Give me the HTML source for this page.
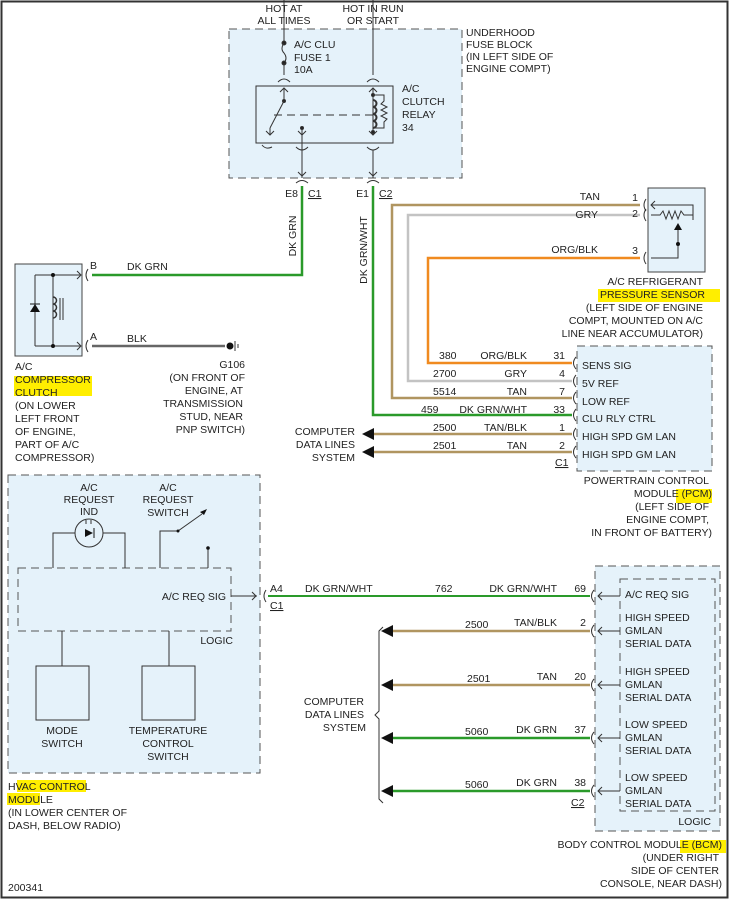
<!DOCTYPE html>
<html><head><meta charset="utf-8"><style>
html,body{margin:0;padding:0;background:#fff}
svg{display:block}
text{font-family:"Liberation Sans",sans-serif;font-size:10.5px;fill:#222}
.r{text-anchor:end}.m{text-anchor:middle}
</style></head><body>
<svg width="730" height="900" viewBox="0 0 730 900" xmlns="http://www.w3.org/2000/svg">
<rect x="1.5" y="1.5" width="726" height="896" fill="#fff" stroke="#333" stroke-width="2"/>
<!-- highlights -->
<g fill="#ffee00">
<rect x="14" y="376" width="78" height="20"/>
<rect x="598" y="289" width="122" height="13"/>
<rect x="676" y="489" width="36" height="14"/>
<rect x="17" y="780" width="69" height="12"/>
<rect x="7" y="793" width="33" height="12"/>
<rect x="621" y="584" width="70" height="14"/>
<rect x="680" y="840" width="46" height="13"/>
</g>
<!-- fuse block -->
<rect x="229" y="29" width="233" height="149" fill="#e5f2fa" stroke="#555" stroke-dasharray="8,5"/>
<rect x="256" y="86" width="137" height="57" fill="none" stroke="#333"/>
<g stroke="#333" fill="none">
<line x1="284" y1="29" x2="284" y2="43"/><circle cx="284" cy="43" r="2" fill="#222"/>
<path d="M284,43 q-4,6 0,10 q4,5 0,10"/><circle cx="284" cy="63" r="2" fill="#222"/>
<line x1="284" y1="63" x2="284" y2="75"/><path d="M278,82 q6,-6 12,0"/>
<path d="M280,92 l4,-4 4,4"/><line x1="284" y1="88" x2="284" y2="101"/><circle cx="284" cy="101" r="1.5" fill="#222"/>
<line x1="284" y1="101" x2="270" y2="128"/><line x1="270" y1="128" x2="270" y2="135"/><path d="M266,131 l4,4 4,-4"/>
<path d="M262,145 q4,5 10,2"/>
<line x1="302" y1="128" x2="302" y2="178"/><circle cx="302" cy="128" r="1.5" fill="#222"/><path d="M298,131 l4,4 4,-4"/>
<path d="M296,147 q6,6 12,0"/><path d="M298,172 l4,4 4,-4"/>
<line x1="274" y1="115" x2="373" y2="115" stroke-dasharray="8,5"/>
<line x1="373" y1="0" x2="373" y2="75"/><path d="M367,82 q6,-6 12,0"/><path d="M369,92 l4,-4 4,4"/>
<line x1="373" y1="88" x2="373" y2="135"/><circle cx="373" cy="95" r="1.5" fill="#222"/><circle cx="373" cy="132" r="1.5" fill="#222"/>
<path d="M373,100 a3,3 0 0 1 0,7 a3,3 0 0 1 0,7 a3,3 0 0 1 0,7 a3,3 0 0 1 0,7" stroke-width="2"/>
<path d="M373,95 h11 v6 l-3,3 6,3 -6,3 6,3 -6,3 6,3 -3,3 v6 h-11"/>
<path d="M369,131 l4,4 4,-4"/><path d="M367,147 q6,6 12,0"/>
<line x1="373" y1="150" x2="373" y2="178"/><path d="M369,172 l4,4 4,-4"/>
<line x1="284" y1="0" x2="284" y2="29"/>
<path d="M296,183 q6,-5 12,0"/><path d="M367,183 q6,-5 12,0"/>
</g>
<text x="284" y="12" class="m">HOT AT</text><text x="284" y="24" class="m">ALL TIMES</text>
<text x="373" y="12" class="m">HOT IN RUN</text><text x="373" y="24" class="m">OR START</text>
<text x="294" y="48">A/C CLU</text><text x="294" y="61">FUSE 1</text><text x="294" y="73">10A</text>
<text x="402" y="92">A/C</text><text x="402" y="105">CLUTCH</text><text x="402" y="118">RELAY</text><text x="402" y="131">34</text>
<text x="466" y="36">UNDERHOOD</text><text x="466" y="48">FUSE BLOCK</text><text x="466" y="60">(IN LEFT SIDE OF</text><text x="466" y="72">ENGINE COMPT)</text>
<text x="298" y="197" class="r">E8</text><text x="308" y="197" text-decoration="underline">C1</text>
<text x="369" y="197" class="r">E1</text><text x="379" y="197" text-decoration="underline">C2</text>
<!-- wires -->
<g fill="none" stroke-width="2.5">
<path d="M302,186 V275 H92" stroke="#2a9a2a"/>
<path d="M373,186 V415 H572" stroke="#2a9a2a"/>
<path d="M640,205 H392 V398 H572" stroke="#b09560"/>
<path d="M640,215 H408 V381 H572" stroke="#c3c3c3"/>
<path d="M640,258 H428 V363 H572" stroke="#f08a20"/>
<path d="M92,346 H225" stroke="#666"/>
<path d="M372,434 H572" stroke="#b09560"/>
<path d="M372,452 H572" stroke="#b09560"/>
<path d="M268,596 H590" stroke="#2a9a2a" stroke-width="2"/>
<path d="M390,631 H590" stroke="#b09560"/>
<path d="M390,685 H590" stroke="#b09560"/>
<path d="M390,738 H590" stroke="#2a9a2a"/>
<path d="M390,791 H590" stroke="#2a9a2a"/>
</g>
<g fill="#111">
<path d="M362,434 l12,-6 v12z"/><path d="M362,452 l12,-6 v12z"/>
<path d="M381,631 l12,-6 v12z"/><path d="M381,685 l12,-6 v12z"/><path d="M381,738 l12,-6 v12z"/><path d="M381,791 l12,-6 v12z"/>
<circle cx="230" cy="346" r="3.5"/>
</g>
<g stroke="#333" fill="none">
<line x1="235" y1="341" x2="235" y2="351"/><line x1="238" y1="344" x2="238" y2="348"/>
<path d="M383,627 l-4,4 v80 l-4,4 4,4 v80 l4,4"/>
</g>
<text x="296" y="236" transform="rotate(-90 296 236)" class="m">DK GRN</text>
<text x="367" y="250" transform="rotate(-90 367 250)" class="m">DK GRN/WHT</text>
<text x="127" y="270">DK GRN</text><text x="127" y="342">BLK</text>
<!-- compressor clutch -->
<rect x="15" y="264" width="67" height="92" fill="#e5f2fa" stroke="#444"/>
<g stroke="#333" fill="none">
<path d="M35,275 H80 M35,346 H80 M35,275 V346 M53,275 V346"/><path d="M77,271 l4,4 -4,4 M77,342 l4,4 -4,4"/>
<path d="M88,269 q-4,6 0,12 M88,340 q-4,6 0,12"/>
<path d="M53,297 a3,3 0 0 1 0,7 a3,3 0 0 1 0,7 a3,3 0 0 1 0,7" stroke-width="1.5"/>
<path d="M60,298 v22 M63,298 v22"/>
</g>
<path d="M30,312 h10 l-5,-8z" fill="#111"/><line x1="30" y1="304" x2="40" y2="304" stroke="#111"/>
<circle cx="53" cy="275" r="2" fill="#111"/><circle cx="53" cy="346" r="2" fill="#111"/>
<text x="90" y="269">B</text><text x="90" y="340">A</text>
<g><text x="15" y="370">A/C</text><text x="15" y="383">COMPRESSOR</text><text x="15" y="396">CLUTCH</text><text x="15" y="409">(ON LOWER</text><text x="15" y="422">LEFT FRONT</text><text x="15" y="435">OF ENGINE,</text><text x="15" y="448">PART OF A/C</text><text x="15" y="461">COMPRESSOR)</text></g>
<g class="r"><text x="245" y="368" class="r">G106</text><text x="245" y="381" class="r">(ON FRONT OF</text><text x="243" y="394" class="r">ENGINE, AT</text><text x="243" y="407" class="r">TRANSMISSION</text><text x="243" y="420" class="r">STUD, NEAR</text><text x="245" y="433" class="r">PNP SWITCH)</text></g>
<!-- sensor -->
<rect x="648" y="188" width="57" height="84" fill="#e5f2fa" stroke="#444"/>
<g stroke="#333" fill="none">
<path d="M646,199 q-4,6 0,12 M646,209 q-4,6 0,12 M646,252 q-4,6 0,12"/>
<path d="M655,201 l-4,4 4,4 M651,205 H693 V220 M651,215 H660 l3,-4 3,8 3,-8 3,8 3,-8 3,8 3,-8 3,4 H693 M651,258 H678 V224"/>
</g>
<path d="M674,230 h8 l-4,-7z" fill="#111"/><circle cx="678" cy="244" r="2" fill="#111"/>
<text x="600" y="200" class="r">TAN</text><text x="598" y="218" class="r">GRY</text><text x="598" y="253" class="r">ORG/BLK</text>
<text x="638" y="201" class="r">1</text><text x="638" y="217" class="r">2</text><text x="638" y="254" class="r">3</text>
<g><text x="703" y="285" class="r">A/C REFRIGERANT</text><text x="705" y="298" class="r">PRESSURE SENSOR</text><text x="703" y="311" class="r">(LEFT SIDE OF ENGINE</text><text x="703" y="324" class="r">COMPT, MOUNTED ON A/C</text><text x="703" y="337" class="r">LINE NEAR ACCUMULATOR)</text></g>
<!-- PCM -->
<rect x="577" y="346" width="135" height="125" fill="#e5f2fa" stroke="#555" stroke-dasharray="8,5"/>
<g stroke="#333" fill="none"><path d="M576,357 q-5,6 0,12 M576,375 q-5,6 0,12 M576,392 q-5,6 0,12 M576,409 q-5,6 0,12 M576,428 q-5,6 0,12 M576,446 q-5,6 0,12"/></g>
<g><text x="582" y="369">SENS SIG</text><text x="582" y="387">5V REF</text><text x="582" y="405">LOW REF</text><text x="582" y="422">CLU RLY CTRL</text><text x="582" y="440">HIGH SPD GM LAN</text><text x="582" y="458">HIGH SPD GM LAN</text></g>
<g><text x="439" y="359">380</text><text x="527" y="359" class="r">ORG/BLK</text><text x="565" y="359" class="r">31</text>
<text x="433" y="377">2700</text><text x="527" y="377" class="r">GRY</text><text x="565" y="377" class="r">4</text>
<text x="433" y="395">5514</text><text x="527" y="395" class="r">TAN</text><text x="565" y="395" class="r">7</text>
<text x="421" y="413">459</text><text x="527" y="413" class="r">DK GRN/WHT</text><text x="565" y="413" class="r">33</text>
<text x="433" y="431">2500</text><text x="527" y="431" class="r">TAN/BLK</text><text x="565" y="431" class="r">1</text>
<text x="433" y="449">2501</text><text x="527" y="449" class="r">TAN</text><text x="565" y="449" class="r">2</text>
<text x="555" y="466" text-decoration="underline">C1</text></g>
<text x="355" y="435" class="r">COMPUTER</text><text x="355" y="448" class="r">DATA LINES</text><text x="355" y="461" class="r">SYSTEM</text>
<g><text x="709" y="484" class="r">POWERTRAIN CONTROL</text><text x="712" y="497" class="r">MODULE (PCM)</text><text x="709" y="510" class="r">(LEFT SIDE OF</text><text x="709" y="523" class="r">ENGINE COMPT,</text><text x="712" y="536" class="r">IN FRONT OF BATTERY)</text></g>
<!-- HVAC -->
<rect x="8" y="475" width="252" height="298" fill="#e5f2fa" stroke="#555" stroke-dasharray="8,5"/>
<rect x="18" y="568" width="213" height="63" fill="none" stroke="#555" stroke-dasharray="8,5"/>
<g stroke="#333" fill="none">
<path d="M53,568 V533 H125 V568"/><circle cx="89" cy="533" r="14" fill="#e5f2fa"/>
<path d="M160,568 V531 H178 L202,514 M208,568 V548"/>
<path d="M231,596 H257 M252,592 l4,4 -4,4 M266,590 q-4,6 0,12"/>
<path d="M62,631 V666 M169,631 V666"/>
<rect x="36" y="666" width="53" height="54" fill="#e5f2fa"/><rect x="142" y="666" width="53" height="54" fill="#e5f2fa"/>
<path d="M86,524 v-4 M91,524 v-4"/>
</g>
<path d="M85,529 v8 l8,-4z" fill="#111"/><line x1="94" y1="528" x2="94" y2="538" stroke="#111"/>
<circle cx="178" cy="531" r="1.5" fill="#111"/><circle cx="208" cy="548" r="1.8" fill="#111"/><path d="M200,512 l7,-3 -3,6z" fill="#111"/>
<text x="89" y="491" class="m">A/C</text><text x="89" y="503" class="m">REQUEST</text><text x="89" y="515" class="m">IND</text>
<text x="168" y="491" class="m">A/C</text><text x="168" y="503" class="m">REQUEST</text><text x="168" y="516" class="m">SWITCH</text>
<text x="226" y="600" class="r">A/C REQ SIG</text><text x="233" y="644" class="r">LOGIC</text>
<text x="62" y="734" class="m">MODE</text><text x="62" y="747" class="m">SWITCH</text>
<text x="168" y="734" class="m">TEMPERATURE</text><text x="168" y="747" class="m">CONTROL</text><text x="168" y="760" class="m">SWITCH</text>
<text x="8" y="790">HVAC CONTROL</text><text x="8" y="803">MODULE</text><text x="8" y="816">(IN LOWER CENTER OF</text><text x="8" y="829">DASH, BELOW RADIO)</text>
<text x="8" y="891">200341</text>
<text x="270" y="592">A4</text><text x="270" y="609" text-decoration="underline">C1</text>
<text x="305" y="592">DK GRN/WHT</text><text x="435" y="592">762</text><text x="557" y="592" class="r">DK GRN/WHT</text><text x="586" y="592" class="r">69</text>
<!-- BCM -->
<rect x="595" y="566" width="125" height="265" fill="#e5f2fa" stroke="#555" stroke-dasharray="8,5"/>
<rect x="620" y="579" width="95" height="232" fill="none" stroke="#555" stroke-dasharray="8,5"/>
<g stroke="#333" fill="none">
<path d="M594,590 q-5,6 0,12 M594,625 q-5,6 0,12 M594,679 q-5,6 0,12 M594,732 q-5,6 0,12 M594,785 q-5,6 0,12"/>
<path d="M598,596 H620 M602,592 l-4,4 4,4 M598,631 H620 M602,627 l-4,4 4,4 M598,685 H620 M602,681 l-4,4 4,4 M598,738 H620 M602,734 l-4,4 4,4 M598,791 H620 M602,787 l-4,4 4,4"/>
</g>
<g><text x="625" y="598">A/C REQ SIG</text>
<text x="625" y="621">HIGH SPEED</text><text x="625" y="634">GMLAN</text><text x="625" y="647">SERIAL DATA</text>
<text x="625" y="675">HIGH SPEED</text><text x="625" y="688">GMLAN</text><text x="625" y="701">SERIAL DATA</text>
<text x="625" y="728">LOW SPEED</text><text x="625" y="741">GMLAN</text><text x="625" y="754">SERIAL DATA</text>
<text x="625" y="781">LOW SPEED</text><text x="625" y="794">GMLAN</text><text x="625" y="807">SERIAL DATA</text>
<text x="711" y="825" class="r">LOGIC</text></g>
<g><text x="465" y="628">2500</text><text x="557" y="626" class="r">TAN/BLK</text><text x="586" y="626" class="r">2</text>
<text x="467" y="682">2501</text><text x="557" y="680" class="r">TAN</text><text x="586" y="680" class="r">20</text>
<text x="465" y="735">5060</text><text x="557" y="733" class="r">DK GRN</text><text x="586" y="733" class="r">37</text>
<text x="465" y="788">5060</text><text x="557" y="786" class="r">DK GRN</text><text x="586" y="786" class="r">38</text>
<text x="571" y="806" text-decoration="underline">C2</text></g>
<text x="364" y="705" class="r">COMPUTER</text><text x="364" y="718" class="r">DATA LINES</text><text x="366" y="731" class="r">SYSTEM</text>
<g><text x="722" y="848" class="r">BODY CONTROL MODULE (BCM)</text><text x="719" y="861" class="r">(UNDER RIGHT</text><text x="719" y="874" class="r">SIDE OF CENTER</text><text x="722" y="887" class="r">CONSOLE, NEAR DASH)</text></g>
</svg>
</body></html>
